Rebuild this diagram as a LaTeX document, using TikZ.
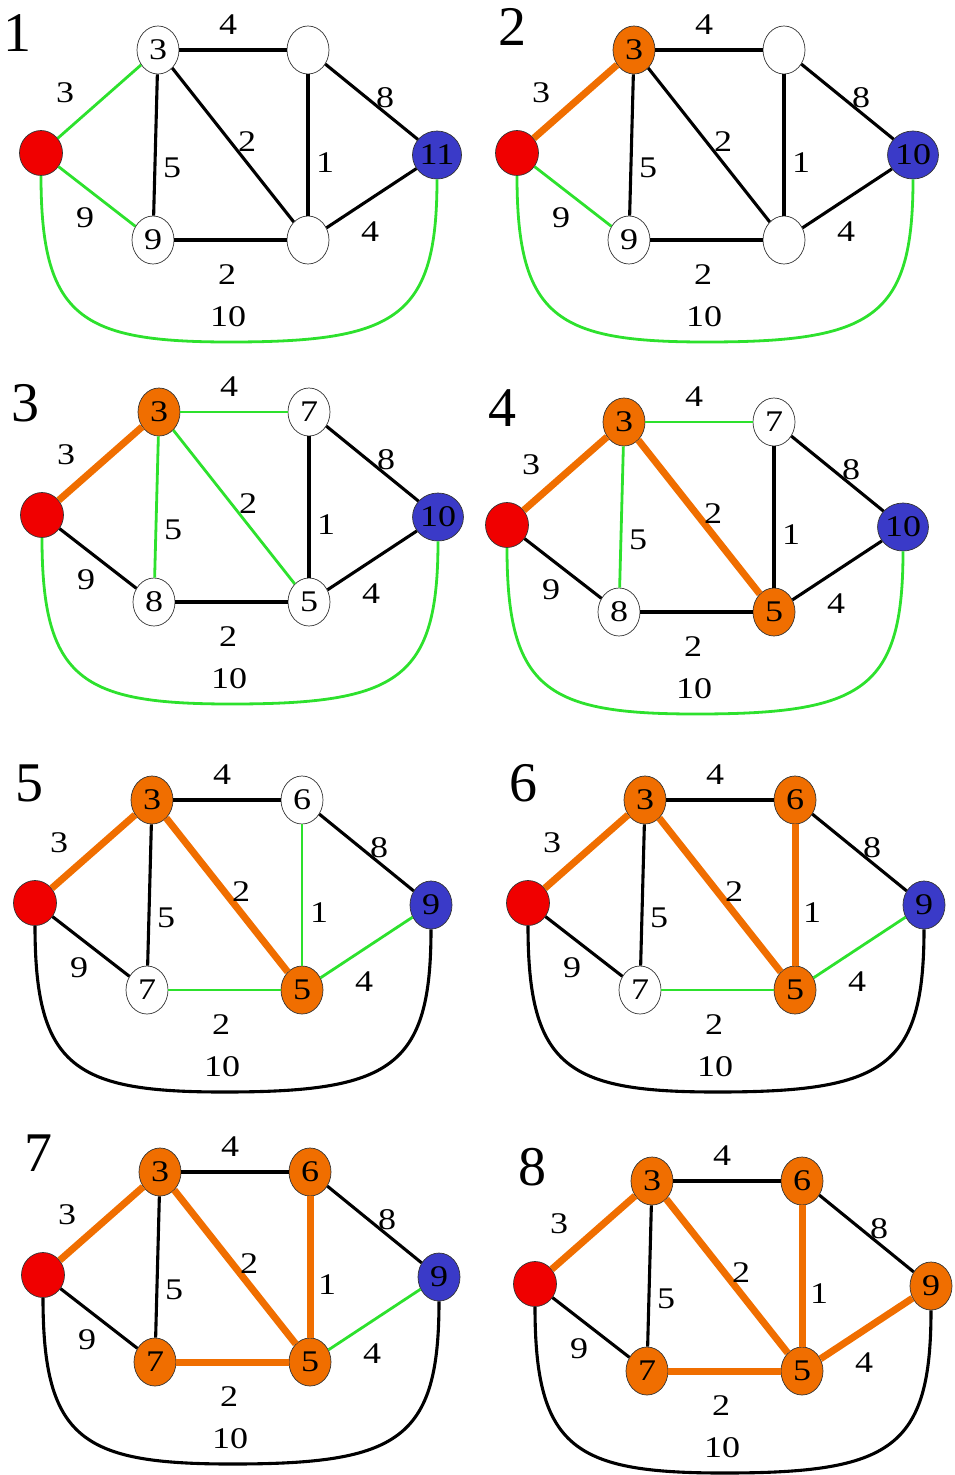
\documentclass[tikz,border=0pt]{standalone}
\usepackage{fontspec}
\setmainfont{Liberation Serif}
\newfontfamily\lblfont{Liberation Serif}[FakeStretch=1.2]
\usetikzlibrary{shapes.geometric}
\definecolor{treeorange}{RGB}{240,110,0}
\definecolor{candgreen}{RGB}{45,225,45}
\definecolor{srcred}{RGB}{240,0,0}
\definecolor{tgtblue}{RGB}{58,58,200}
\tikzset{every picture/.style={line width=0.75pt}}
\tikzset{
vtx/.style={ellipse, draw=black!80, line width=0.7pt, minimum width=42pt, minimum height=48pt, inner sep=0pt, font={\lblfont\fontsize{30}{30}\selectfont}},
opennode/.style={vtx, fill=white},
donenode/.style={vtx, fill=treeorange},
srcnode/.style={vtx, fill=srcred, minimum width=43pt, minimum height=45pt},
tgtnode/.style={vtx, fill=tgtblue},
plainedge/.style={draw=black, line width=3.1pt},
candedge/.style={draw=candgreen, line width=2.8pt},
treeedge/.style={draw=treeorange, line width=7pt},
elabel/.style={inner sep=0pt, font={\lblfont\fontsize{30}{30}\selectfont}},
numlabel/.style={inner sep=0pt, font={\fontsize{56}{56}\selectfont}},
esa/.style=plainedge, esc/.style=plainedge, est/.style=plainedge,
eab/.style=plainedge, eac/.style=plainedge, ead/.style=plainedge,
ebd/.style=plainedge, ebt/.style=plainedge, ecd/.style=plainedge,
edt/.style=plainedge,
na/.style=opennode, nb/.style=opennode, nc/.style=opennode,
nd/.style=opennode, nt/.style=tgtnode}
% one step of the graph: #1 id, #2..#6 values at a, b, c, d, t
\newcommand{\dgraph}[6]{%
\node[srcnode] (s#1) at (0,0) {};
\node[na] (a#1) at (117,-103) {#2};
\node[nb] (b#1) at (267,-103) {#3};
\node[nc] (c#1) at (112,87) {#4};
\node[nd] (d#1) at (267,87) {#5};
\node[nt] (t#1) at (396,2) {#6};
\coordinate (m#1) at (189,189);
%Straight Lines
\draw[esa] (s#1) -- (a#1);
\draw[esc] (s#1) -- (c#1);
\draw[eab] (a#1) -- (b#1);
\draw[eac] (a#1) -- (c#1);
\draw[ead] (a#1) -- (d#1);
\draw[ebd] (b#1) -- (d#1);
\draw[ebt] (b#1) -- (t#1);
\draw[ecd] (c#1) -- (d#1);
\draw[edt] (d#1) -- (t#1);
%Curve Lines
\draw[est] (s#1.south) .. controls (0,165) and (40,189) .. (m#1) .. controls (356,189) and (396,165) .. (t#1.south);
% Text Node
\node[elabel] (lsa#1) at (24,-60) {3};
\node[elabel] (lab#1) at (187,-128) {4};
\node[elabel] (lac#1) at (131,15) {5};
\node[elabel] (lad#1) at (206,-11) {2};
\node[elabel] (lbd#1) at (284,10) {1};
\node[elabel] (lbt#1) at (344,-55) {8};
\node[elabel] (lsc#1) at (44,65) {9};
\node[elabel] (ldt#1) at (329,79) {4};
\node[elabel] (lcd#1) at (186,122) {2};
\node[elabel] (lst#1) at (187,164) {10};
}

\begin{document}
\begin{tikzpicture}[x=1pt,y=1pt,yscale=-1,xscale=1]
\useasboundingbox (0,0) rectangle (955,1475);

% Step 1
\node[numlabel] (n1) at (18,33) {1};
\begin{scope}[shift={(41,153)}, esa/.style=candedge, esc/.style=candedge, est/.style=candedge]
\dgraph{1}{3}{}{9}{}{11}
\end{scope}

% Step 2
\node[numlabel] (n2) at (512,27) {2};
\begin{scope}[shift={(517,153)}, na/.style=donenode,
  esa/.style=treeedge, esc/.style=candedge, est/.style=candedge]
\dgraph{2}{3}{}{9}{}{10}
\end{scope}

% Step 3
\node[numlabel] (n3) at (26,403) {3};
\begin{scope}[shift={(42,515)}, na/.style=donenode,
  esa/.style=treeedge, est/.style=candedge, eab/.style=candedge,
  eac/.style=candedge, ead/.style=candedge]
\dgraph{3}{3}{7}{8}{5}{10}
\end{scope}

% Step 4
\node[numlabel] (n4) at (502,408) {4};
\begin{scope}[shift={(507,525)}, na/.style=donenode, nd/.style=donenode,
  esa/.style=treeedge, ead/.style=treeedge, est/.style=candedge,
  eab/.style=candedge, eac/.style=candedge]
\dgraph{4}{3}{7}{8}{5}{10}
\end{scope}

% Step 5
\node[numlabel] (n5) at (30,783) {5};
\begin{scope}[shift={(35,903)}, na/.style=donenode, nd/.style=donenode,
  esa/.style=treeedge, ead/.style=treeedge, ebd/.style=candedge,
  ecd/.style=candedge, edt/.style=candedge]
\dgraph{5}{3}{6}{7}{5}{9}
\end{scope}

% Step 6
\node[numlabel] (n6) at (523,783) {6};
\begin{scope}[shift={(528,903)}, na/.style=donenode, nb/.style=donenode, nd/.style=donenode,
  esa/.style=treeedge, ead/.style=treeedge, ebd/.style=treeedge,
  ecd/.style=candedge, edt/.style=candedge]
\dgraph{6}{3}{6}{7}{5}{9}
\end{scope}

% Step 7
\node[numlabel] (n7) at (38,1153) {7};
\begin{scope}[shift={(43,1275)}, na/.style=donenode, nb/.style=donenode,
  nc/.style=donenode, nd/.style=donenode,
  esa/.style=treeedge, ead/.style=treeedge, ebd/.style=treeedge,
  ecd/.style=treeedge, edt/.style=candedge]
\dgraph{7}{3}{6}{7}{5}{9}
\end{scope}

% Step 8
\node[numlabel] (n8) at (532,1167) {8};
\begin{scope}[shift={(535,1284)}, na/.style=donenode, nb/.style=donenode,
  nc/.style=donenode, nd/.style=donenode, nt/.style=donenode,
  esa/.style=treeedge, ead/.style=treeedge, ebd/.style=treeedge,
  ecd/.style=treeedge, edt/.style=treeedge]
\dgraph{8}{3}{6}{7}{5}{9}
\end{scope}

\end{tikzpicture}
\end{document}
